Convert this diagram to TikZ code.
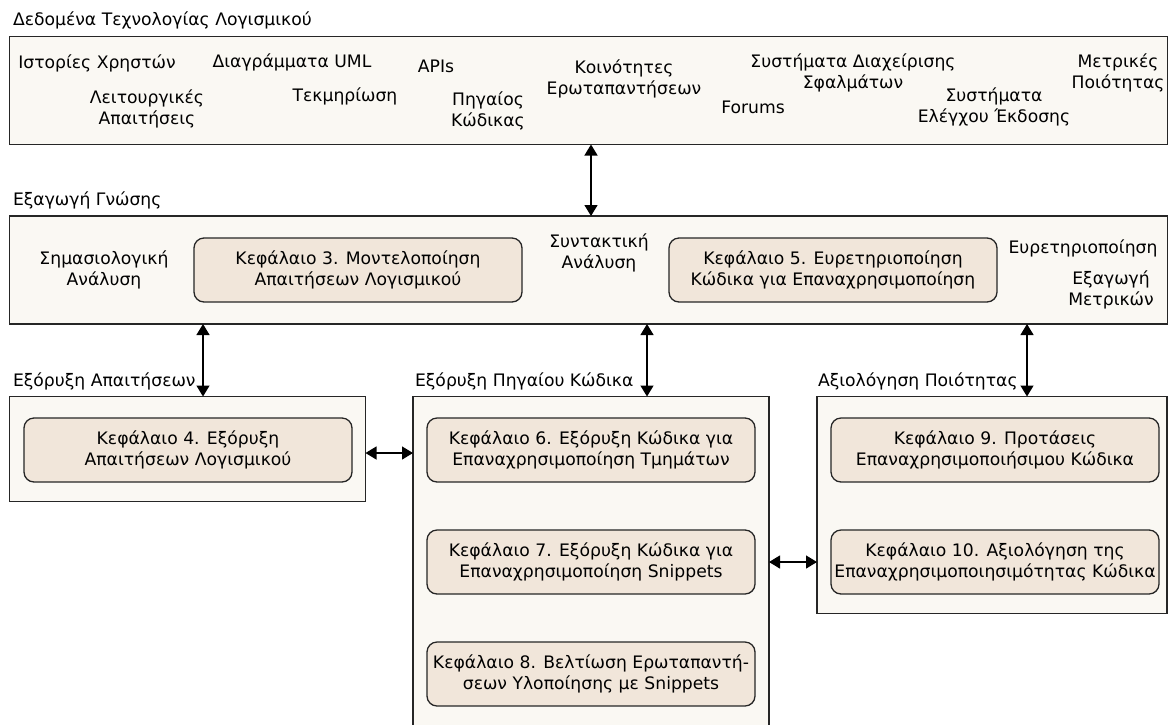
\documentclass[tikz,border=0pt]{standalone}
\usepackage{fontspec}
\setmainfont{DejaVu Sans}
\usetikzlibrary{arrows.meta}
\definecolor{panelfill}{HTML}{FAF8F3}
\definecolor{chapfill}{HTML}{F1E6DA}
\begin{document}
\begin{tikzpicture}[x=1pt,y=-1pt,
  every node/.style={font=\fontsize{17.2}{21.5}\selectfont, inner sep=0pt, outer sep=0pt},
  panel/.style={draw=black!85, fill=panelfill, line width=1.3pt, anchor=north west},
  chapter/.style={draw=black!85, fill=chapfill, line width=1.3pt, rounded corners=10pt,
    minimum width=328pt, minimum height=64pt, align=center, anchor=north west},
  heading/.style={anchor=west},
  term/.style={align=center},
  biarrow/.style={line width=1.3pt,
    {Triangle[length=11pt,width=13pt]}-{Triangle[length=11pt,width=13pt]}}
]
\useasboundingbox (0,0) rectangle (1169,724);
\fill[white] (0,0) rectangle (1169,724);
\begin{scope}
\clip (0,0) rectangle (1169,724);

% ---------- data sources ----------
\node[heading] (hdata) at (13,20) {Δεδομένα Τεχνολογίας Λογισμικού};
\node[panel, minimum width=1158pt, minimum height=108pt] (data) at (9.5,36.5) {};
\node[term] (us)   at (97,63)   {Ιστορίες Χρηστών};
\node[term] (fr)   at (147,109) {Λειτουργικές\\Απαιτήσεις};
\node[term] (uml)  at (292,62)  {Διαγράμματα UML};
\node[term] (doc)  at (345,96)  {Τεκμηρίωση};
\node[term] (api)  at (436,66)  {APIs};
\node[term] (src)  at (488,111) {Πηγαίος\\Κώδικας};
\node[term] (qa)   at (624,79)  {Κοινότητες\\Ερωταπαντήσεων};
\node[term] (fo)   at (753,107) {Forums};
\node[term] (bug)  at (853,73)  {Συστήματα Διαχείρισης\\Σφαλμάτων};
\node[term] (vcs)  at (994,107) {Συστήματα\\Ελέγχου Έκδοσης};
\node[term] (met)  at (1118,73) {Μετρικές\\Ποιότητας};

% ---------- knowledge extraction ----------
\node[heading] (hknow) at (13,200) {Εξαγωγή Γνώσης};
\node[panel, minimum width=1158pt, minimum height=108pt] (know) at (9.5,216) {};
\node[term] (sem)  at (104,270) {Σημασιολογική\\Ανάλυση};
\node[chapter] (c3) at (194,238) {Κεφάλαιο 3. Μοντελοποίηση\\Απαιτήσεων Λογισμικού};
\node[term] (syn)  at (599,253) {Συντακτική\\Ανάλυση};
\node[chapter] (c5) at (669,238) {Κεφάλαιο 5. Ευρετηριοποίηση\\Κώδικα για Επαναχρησιμοποίηση};
\node[term] (idx)  at (1083,248) {Ευρετηριοποίηση};
\node[term] (mex)  at (1111,290) {Εξαγωγή\\Μετρικών};

% ---------- requirements mining ----------
\node[heading] (hreq) at (13,381) {Εξόρυξη Απαιτήσεων};
\node[panel, minimum width=356pt, minimum height=105pt] (req) at (9.5,396.5) {};
\node[chapter] (c4) at (24,418) {Κεφάλαιο 4. Εξόρυξη\\Απαιτήσεων Λογισμικού};

% ---------- source code mining ----------
\node[heading] (hcode) at (415,381) {Εξόρυξη Πηγαίου Κώδικα};
\node[panel, minimum width=356pt, minimum height=360pt] (code) at (413,396.5) {};
\node[chapter] (c6) at (427,418) {Κεφάλαιο 6. Εξόρυξη Κώδικα για\\Επαναχρησιμοποίηση Τμημάτων};
\node[chapter] (c7) at (427,530) {Κεφάλαιο 7. Εξόρυξη Κώδικα για\\Επαναχρησιμοποίηση Snippets};
\node[chapter] (c8) at (427,642) {Κεφάλαιο 8. Βελτίωση Ερωταπαντή-\\σεων Υλοποίησης με Snippets};

% ---------- quality assessment ----------
\node[heading] (hqual) at (818,381) {Αξιολόγηση Ποιότητας};
\node[panel, minimum width=350pt, minimum height=217pt] (qual) at (817,396.5) {};
\node[chapter] (c9)  at (831,418) {Κεφάλαιο 9. Προτάσεις\\Επαναχρησιμοποιήσιμου Κώδικα};
\node[chapter] (c10) at (831,530) {Κεφάλαιο 10. Αξιολόγηση της\\Επαναχρησιμοποιησιμότητας Κώδικα};

% ---------- connectors ----------
\coordinate (xa) at (591,0);
\coordinate (xb) at (203,0);
\coordinate (xc) at (647,0);
\coordinate (xd) at (1027,0);
\coordinate (ya) at (0,453);
\coordinate (yb) at (0,562);
\draw[biarrow] (data.south -| xa) -- (know.north -| xa);
\draw[biarrow] (know.south -| xb) -- (req.north -| xb);
\draw[biarrow] (know.south -| xc) -- (code.north -| xc);
\draw[biarrow] (know.south -| xd) -- (qual.north -| xd);
\draw[biarrow] (req.east |- ya) -- (code.west |- ya);
\draw[biarrow] (code.east |- yb) -- (qual.west |- yb);
\end{scope}
\end{tikzpicture}
\end{document}
